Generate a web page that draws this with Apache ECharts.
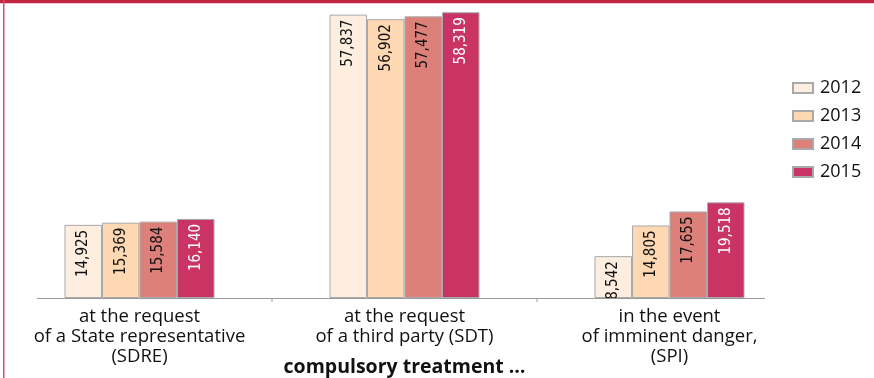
<!DOCTYPE html>
<html>
<head>
<meta charset="utf-8">
<script src="https://cdn.jsdelivr.net/npm/echarts@6/dist/echarts.min.js"></script>
<style>
  html, body { margin: 0; padding: 0; background: #fff; }
  #chart { width: 874px; height: 378px; }
</style>
</head>
<body>
<div id="chart"></div>
<script>
// Compulsory psychiatric treatment, by admission mode and year
var categories = [
  'at the request\nof a State representative\n(SDRE)',
  'at the request\nof a third party (SDT)',
  'in the event\nof imminent danger,\n(SPI)'
];
var years = ['2012', '2013', '2014', '2015'];
var values2012 = [14925, 57837, 8542];
var values2013 = [15369, 56902, 14805];
var values2014 = [15584, 57477, 17655];
var values2015 = [16140, 58319, 19518];
var axisTitle = 'compulsory treatment \u2026';

var seriesValues = [values2012, values2013, values2014, values2015];
var fills = ['#fdeee0', '#fdd8b2', '#dc8079', '#c93465'];
var labelColors = ['#111', '#111', '#111', '#fff'];

var chart = echarts.init(document.getElementById('chart'));

var series = years.map(function (y, i) {
  return {
    name: y,
    type: 'bar',
    data: seriesValues[i],
    barWidth: 37.5,
    barGap: '0%',
    itemStyle: { color: fills[i], borderColor: '#a9a9a9', borderWidth: 1 },
    label: {
      show: true,
      position: 'insideTop',
      rotate: 90,
      align: 'right',
      verticalAlign: 'middle',
      distance: 5,
      color: labelColors[i],
      fontFamily: 'DejaVu Sans Condensed',
      fontSize: 15,
      formatter: function (p) { return p.value.toLocaleString('en-US'); }
    }
  };
});

chart.setOption({
  animation: false,
  grid: { left: 7, right: 72, top: 4, bottom: 80, containLabel: false, outerBoundsMode: 'none' },
  legend: {
    data: years,
    orient: 'vertical',
    left: 787,
    top: 74,
    itemWidth: 20,
    itemHeight: 10,
    itemGap: 10,
    icon: 'rect',
    textStyle: { fontFamily: 'Open Sans', fontSize: 18, color: '#111', padding: [0, 0, 0, 2] }
  },
  xAxis: {
    type: 'category',
    data: categories,
    axisLine: { show: false },
    axisTick: { show: false },
    axisLabel: {
      fontFamily: 'Open Sans',
      fontSize: 18.5,
      lineHeight: 20,
      color: '#111',
      margin: 9,
      interval: 0
    },
    name: axisTitle,
    nameLocation: 'middle',
    nameGap: 59,
    nameMoveOverlap: false,
    nameTextStyle: { fontFamily: 'Open Sans', fontSize: 19.5, fontWeight: 'bold', color: '#111' }
  },
  yAxis: {
    type: 'value',
    min: 0,
    max: 60000,
    show: false,
    splitLine: { show: false }
  },
  series: series
});

// Frame accents and the baseline with its category separators
var baseY = chart.convertToPixel({ yAxisIndex: 0 }, 0);
var c0 = chart.convertToPixel({ xAxisIndex: 0 }, 0);
var c1 = chart.convertToPixel({ xAxisIndex: 0 }, 1);
var band = c1 - c0;
var sep1 = c0 + band / 2;
var sep2 = c1 + band / 2;

chart.setOption({
  graphic: [
    { type: 'rect', shape: { x: 0, y: 0, width: 874, height: 3 }, style: { fill: '#c3243f' }, z: 100 },
    { type: 'rect', shape: { x: 0, y: 3, width: 874, height: 1 }, style: { fill: '#f0c8d0' }, z: 100 },
    { type: 'rect', shape: { x: 3, y: 0, width: 1.5, height: 378 }, style: { fill: '#d4506c' }, z: 100 },
    { type: 'line', shape: { x1: 37, y1: baseY + 0.5, x2: 765, y2: baseY + 0.5 }, style: { stroke: '#9a9a9a', lineWidth: 1 }, z: 50 },
    { type: 'line', shape: { x1: sep1, y1: baseY, x2: sep1, y2: baseY + 4 }, style: { stroke: '#9a9a9a', lineWidth: 1 }, z: 50 },
    { type: 'line', shape: { x1: sep2, y1: baseY, x2: sep2, y2: baseY + 4 }, style: { stroke: '#9a9a9a', lineWidth: 1 }, z: 50 }
  ]
});
</script>
</body>
</html>
